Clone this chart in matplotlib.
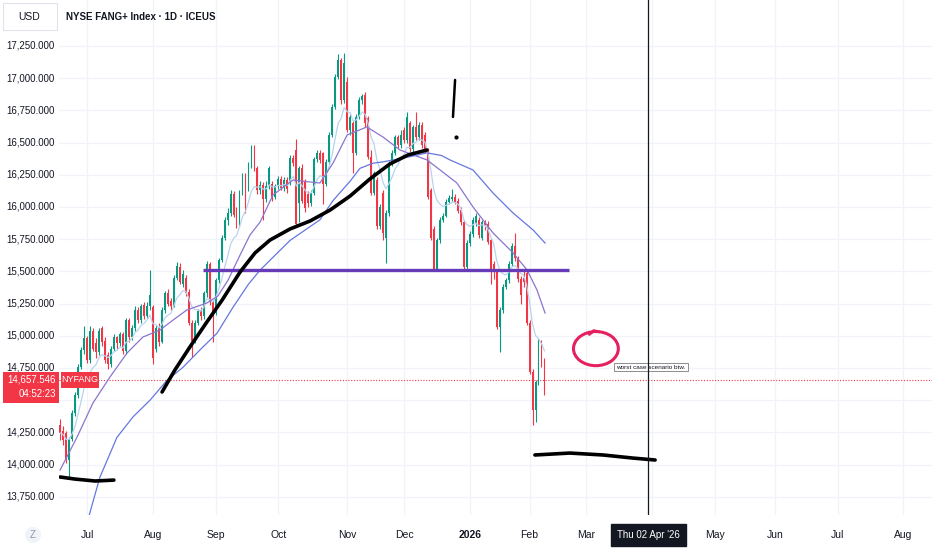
import numpy as np
import pandas as pd
import matplotlib
matplotlib.use('Agg')
import matplotlib.pyplot as plt
from matplotlib import font_manager
from matplotlib.patches import Rectangle, Ellipse, Circle
import matplotlib.transforms as mtransforms

names = {f.name for f in font_manager.fontManager.ttflist}
FONT = 'Liberation Sans Narrow' if 'Liberation Sans Narrow' in names else 'Liberation Sans'
plt.rcParams['font.family'] = [FONT, 'DejaVu Sans']

# ---------------- data ----------------
holidays = ['2025-06-19', '2025-07-04', '2025-09-01', '2025-11-27', '2025-12-25',
            '2026-01-01', '2026-01-19', '2026-02-16', '2026-04-03', '2026-05-25',
            '2026-06-19', '2026-07-03']
first_day = '2025-06-17'
last_axis_day = '2026-08-31'

opens = [14310,14260,14245,14035,14200,14400,14540,14760,14890,14985,
         14810,15040,14940,14870,15060,14960,14850,14780,14900,14990,
         14940,15010,14880,15120,14990,15060,15200,15120,15240,15150,
         15230,15220,14900,15060,14950,15200,15330,15270,15230,15450,
         15530,15400,15450,15340,15100,14960,15100,15200,15150,15330,
         15560,15260,15180,15430,15590,15760,15900,15950,16100,15980,
         15860,16110,16240,16140,16330,16460,16300,16130,16170,16060,
         16160,16180,16080,16160,16220,16150,16210,16190,16380,16440,
         16030,16300,16200,16100,16030,16110,16370,16420,16420,16180,
         16350,16560,16780,17010,17140,16830,16970,16600,16650,16420,
         16700,16830,16870,16690,16390,16110,16210,15850,16110,15760,
         15950,16340,16420,16540,16480,16600,16520,16650,16450,16620,
         16540,16640,16560,16440,16130,15830,15510,15740,15900,15930,
         16040,16060,16080,16050,15980,15880,15530,15720,15790,15870,
         15900,15760,15880,15870,15740,15560,15500,15070,15200,15380,
         15430,15560,15700,15600,15440,15450,15490,15100,14720,14420,
         14640,14870,14800]
highs = [14350,14300,14260,14215,14420,14560,14780,14910,15075,15000,
         15075,15060,14980,15060,15075,14990,14870,14920,15010,15000,
         15030,15030,15140,15140,15080,15230,15220,15250,15260,15260,
         15510,15240,15080,15100,15220,15350,15360,15290,15470,15570,
         15565,15510,15470,15360,15120,15120,15210,15220,15350,15580,
         15570,15280,15450,15600,15780,15920,15990,16130,16120,16000,
         16130,16260,16260,16350,16480,16480,16320,16200,16190,16200,
         16320,16200,16180,16240,16240,16230,16230,16400,16400,16530,
         16320,16330,16220,16120,16130,16390,16440,16440,16430,16370,
         16580,16800,17030,17190,17160,17195,17010,16720,16670,16720,
         16850,16880,16890,16710,16440,16280,16230,16020,16130,15980,
         16360,16440,16560,16560,16600,16620,16740,16670,16640,16740,
         16660,16660,16580,16460,16150,15850,15760,15920,15950,16060,
         16090,16140,16100,16070,16000,15900,15740,15810,15920,15950,
         15920,15900,15900,15890,15760,15580,15520,15220,15400,15450,
         15580,15720,15800,15620,15460,15500,15510,15120,14740,14660,
         14980,14970,14830]
lows = [14190,14150,14010,13900,14180,14380,14520,14740,14860,14790,
        14790,14880,14830,14850,14920,14790,14740,14760,14880,14900,
        14920,14860,14860,14950,14970,15040,15100,15100,15130,15130,
        15200,14780,14870,14920,14940,15180,15230,15200,15220,15430,
        15400,15380,15310,15080,14835,14940,15080,15120,15130,15300,
        15240,14950,15160,15410,15570,15740,15860,15930,15920,15840,
        15850,16090,15950,16120,16300,16280,16100,16100,15900,16040,
        16140,16050,16060,16140,16130,16120,16110,16170,16320,15860,
        15880,16030,15960,16000,16010,16090,16350,16340,16020,16160,
        16330,16540,16760,16990,16800,16810,16580,16560,16260,16400,
        16680,16800,16620,16370,16090,16090,15830,15830,15740,15565,
        15930,16320,16400,16460,16460,16500,16500,16430,16430,16520,
        16520,16460,16420,16060,15740,15500,15500,15720,15880,15920,
        16020,16050,16020,15950,15860,15510,15510,15700,15770,15850,
        15760,15740,15820,15710,15400,15440,15050,14876,15180,15360,
        15410,15540,15580,15420,15250,15380,15080,14700,14310,14330,
        14620,14760,14540]
closes = [14245,14190,14035,14200,14400,14540,14760,14890,14985,14810,
          15040,14900,14870,15040,14950,14810,14780,14900,14990,14940,
          15010,14880,15120,14990,15060,15200,15120,15230,15150,15230,
          15320,14830,15060,14950,15200,15330,15250,15230,15450,15540,
          15420,15480,15330,15100,14960,15100,15190,15150,15330,15560,
          15260,15180,15430,15590,15760,15900,15950,16100,15940,15860,
          16110,16240,16140,16330,16460,16300,16130,16170,16060,16160,
          16300,16080,16160,16220,16150,16210,16140,16380,16340,15870,
          16300,16050,15990,16030,16110,16370,16420,16365,16180,16350,
          16560,16780,17010,17140,16830,17120,16600,16700,16420,16700,
          16830,16860,16650,16390,16110,16260,15850,16000,15800,15950,
          16340,16420,16540,16480,16560,16520,16700,16450,16620,16540,
          16640,16480,16440,16080,15760,15510,15740,15900,15930,16040,
          16070,16080,16040,15970,15880,15530,15720,15790,15900,15930,
          15780,15880,15850,15730,15520,15495,15070,15200,15380,15430,
          15560,15700,15600,15440,15320,15420,15100,14720,14420,14640,
          14870,14790,14657.546]

# moving averages (bar position, value)
ma20_pos = [-9.0, -3.3, 2.0, 7.7, 13.4, 18.7, 24.4, 28.8, 33.4, 40.1, 43.8, 47.2, 51.2,
            54.5, 57.9, 62.2, 68.9, 74.6, 77.9, 82.3, 87.0, 93.6, 99.0, 104.7, 113.7,
            118.1, 123.7, 129.1, 135.8, 142.5, 147.2, 150.5, 153.2]
ma20_val = [13957, 14214, 14478, 14680, 14866, 14990, 15044, 15122, 15200, 15254, 15309,
            15433, 15627, 15782, 15883, 16093, 16209, 16194, 16186, 16341, 16559, 16621,
            16543, 16442, 16365, 16287, 16186, 16000, 15798, 15643, 15510, 15355, 15176]
ma50_pos = [0.3, 4.3, 10.0, 15.4, 21.1, 26.8, 32.1, 37.8, 43.5, 48.8, 54.0, 57.9, 67.9,
            77.9, 82.3, 88.0, 91.3, 95.7, 99.0, 108.0, 113.7, 118.5, 121.4, 129.1, 135.8,
            142.5, 149.2, 153.2]
ma50_val = [13570, 13900, 14210, 14370, 14500, 14655, 14755, 14890, 15020, 15220, 15400,
            15510, 15740, 15900, 16050, 16200, 16300, 16340, 16350, 16390, 16420, 16400,
            16365, 16287, 16108, 15953, 15821, 15720]

# drawings (bar position, price)
support_level = 15510
support_from, support_to = 38.8, 161.2
curve_pos = [25.1, 29.4, 34.4, 40.1, 45.2, 51.2, 56.2, 61.2, 67.9, 74.6, 81.3, 88.0,
             94.6, 101.3, 107.4, 113.7]
curve_val = [14563, 14734, 14912, 15107, 15277, 15495, 15643, 15743, 15829, 15891, 15976,
             16085, 16217, 16334, 16404, 16442]
low_left_pos = [-9.0, -4.0, 2.7, 9.0]
low_left_val = [13903, 13887, 13872, 13879]
low_right_pos = [149.8, 161.5, 172.6, 182.6, 190.0]
low_right_val = [14074, 14089, 14074, 14050, 14035]
excl_pos = [123.1, 122.4]
excl_val = [16986, 16699]
excl_dot = (123.4, 16543)
circle_center = (170.2, 14900)
note_pos = (177.0, 14757)
note_text = 'worst case scenario btw.'
cross_pos = 187.7
cross_label = "Thu 02 Apr '26"

price_ticks = [13750 + 250 * k for k in range(15)]
hidden_ticks = [14500]          # covered by the last-price tag in the reference
month_labels = [('2025-07-01', 'Jul'), ('2025-08-01', 'Aug'), ('2025-09-02', 'Sep'),
                ('2025-10-01', 'Oct'), ('2025-11-03', 'Nov'), ('2025-12-01', 'Dec'),
                ('2026-01-02', '2026'), ('2026-02-02', 'Feb'), ('2026-03-02', 'Mar'),
                ('2026-05-01', 'May'), ('2026-06-01', 'Jun'),
                ('2026-07-01', 'Jul'), ('2026-08-03', 'Aug')]
grid_months = [d for d, _ in month_labels] + ['2026-04-01']

# ---------------- positions ----------------
cal = pd.bdate_range(first_day, last_axis_day, freq='C', holidays=holidays)
ref = cal.get_loc(pd.Timestamp('2025-07-01'))
allpos = np.arange(len(cal)) - ref
o = np.array(opens, float); h = np.array(highs, float)
l = np.array(lows, float); c = np.array(closes, float)
n = len(c)
xs = allpos[:n]
h = np.maximum(h, np.maximum(o, c)); l = np.minimum(l, np.minimum(o, c))

W, H = 932, 550
fig = plt.figure(figsize=(W / 100, H / 100), dpi=100)
fig.patch.set_facecolor('white')
AX_L, AX_B = 59, 35
ax = fig.add_axes([AX_L / W, AX_B / H, (W - AX_L) / W, (H - AX_B) / H])
ax.set_xlim(-9.36, 282.6)
ax.set_ylim(13608, 17607)
for s in ax.spines.values():
    s.set_visible(False)
ax.set_xticks([]); ax.set_yticks([])

GREEN, RED = '#089981', '#f23645'
GRID = '#f0f3fa'
TXT = '#131722'

# grid
for p in price_ticks:
    ax.axhline(p, color=GRID, lw=0.9, zorder=0)
for d in grid_months:
    ax.axvline(cal.get_loc(pd.Timestamp(d)) - ref, color=GRID, lw=0.9, zorder=0)
month_x = [cal.get_loc(pd.Timestamp(d)) - ref for d, _ in month_labels]

# candles
cols = np.where(c >= o, GREEN, RED)
ax.vlines(xs, l, h, colors=cols, lw=0.8, zorder=3)
body = np.maximum(np.abs(c - o), 12)
ax.bar(xs, body, bottom=np.minimum(o, c), width=0.62, color=cols, lw=0, zorder=3)

# moving averages
ema = pd.Series(c).ewm(span=9, adjust=False).mean().values
ax.plot(xs, ema, color='#b9d3ee', lw=0.9, zorder=4)
ax.plot(ma20_pos, ma20_val, color='#8c74cf', lw=0.9, zorder=4)
ax.plot(ma50_pos, ma50_val, color='#6577e0', lw=0.9, zorder=4)

# last price line
last = c[-1]
ax.axhline(last, color=RED, lw=0.8, ls=(0, (1, 1.5)), zorder=2)

# drawings
ax.plot([support_from, support_to], [support_level, support_level], color='#673ab7',
        lw=2.4, zorder=5, solid_capstyle='butt')
for px, pv in [(curve_pos, curve_val), (low_left_pos, low_left_val), (low_right_pos, low_right_val)]:
    ax.plot(px, pv, color='black', lw=2.6, zorder=6, solid_capstyle='round',
            solid_joinstyle='round')
ax.plot(excl_pos, excl_val, color='black', lw=1.8, zorder=6, solid_capstyle='round')
ax.plot([excl_dot[0]], [excl_dot[1]], 'o', color='black', ms=2, zorder=6)
ax.add_patch(Ellipse(circle_center, width=15.0, height=265, fill=False, ec='#e5205f',
                     lw=2.2, zorder=6))
ax.plot([168.0, 169.5, 171.2], [15010, 15040, 15030], color='#e5205f', lw=2.0,
        zorder=6, solid_capstyle='round')
ax.text(note_pos[0], note_pos[1], note_text, fontsize=4.6, color=TXT, va='center',
        ha='left', zorder=7,
        bbox=dict(boxstyle='square,pad=0.3', fc='white', ec='#7a7a7a', lw=0.6))

# crosshair
ax.axvline(cross_pos, color=TXT, lw=0.9, zorder=7)

# price axis labels
ytr = mtransforms.blended_transform_factory(ax.transAxes, ax.transData)
for p in price_ticks:
    if p in hidden_ticks:
        continue
    ax.text(-4 / (W - AX_L), p, f'{p:,.3f}', transform=ytr, ha='right', va='center',
            fontsize=7, color=TXT, clip_on=False)

# time axis labels
xtr = mtransforms.blended_transform_factory(ax.transData, ax.transAxes)
ylab = -20 / (H - AX_B)
for mx, (_, lab) in zip(month_x, month_labels):
    ax.text(mx, ylab, lab, transform=xtr, ha='center', va='center', fontsize=7.5,
            color=TXT, weight='bold' if lab == '2026' else 'normal', clip_on=False)
ax.text(cross_pos, ylab, cross_label, transform=xtr, ha='center', va='center',
        fontsize=7, color='white', clip_on=False, zorder=10,
        bbox=dict(boxstyle='square,pad=0.6', fc=TXT, ec=TXT))

# last price tag (left) and symbol tag
fig.canvas.draw()
ly = ax.transData.transform((0, last))[1]  # pixels from bottom
fig.add_artist(Rectangle((3, ly - 23), 56, 31, transform=None, fc=RED, ec='none', zorder=20))
fig.text(56 / W, ly / H, f'{last:,.3f}', ha='right', va='center', fontsize=7,
         color='white', zorder=21)
fig.text(56 / W, (ly - 14) / H, '04:52:23', ha='right', va='center', fontsize=7,
         color='white', zorder=21)
fig.add_artist(Rectangle((61, ly - 8), 38, 16, transform=None, fc=RED, ec='none', zorder=20))
fig.text(80 / W, ly / H, 'NYFANG', ha='center', va='center', fontsize=6.5,
         color='white', zorder=21)

# header
fig.add_artist(Rectangle((3, H - 30), 54, 27, transform=None, fc='white', ec='#e0e3eb',
                         lw=0.8, zorder=20))
fig.text(18 / W, 1 - 17 / H, 'USD', ha='left', va='center', fontsize=7.5, color=TXT, zorder=21)
fig.text(66 / W, 1 - 17 / H, 'NYSE FANG+ Index · 1D · ICEUS', ha='left', va='center',
         fontsize=7, color=TXT, weight='bold', zorder=21)

# Z icon
fig.add_artist(Circle((33, 15), 8, transform=None, fc='#f0f3fa', ec='none', zorder=20))
fig.text(33 / W, 15 / H, 'Z', ha='center', va='center', fontsize=7, color='#9598a1', zorder=21)

fig.savefig('out.png', dpi=100)
